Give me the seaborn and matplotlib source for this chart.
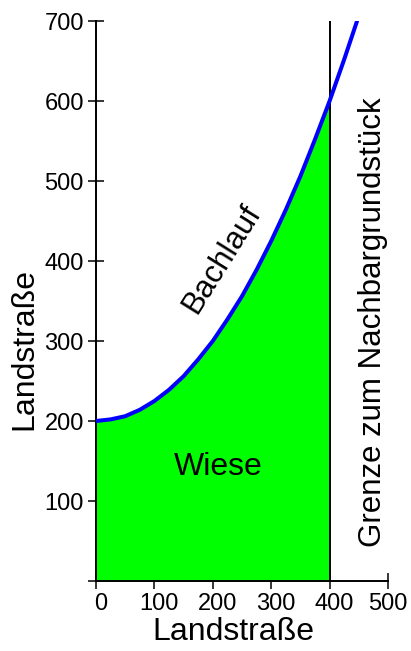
import matplotlib
matplotlib.use("Agg")
import matplotlib.pyplot as plt
import matplotlib.transforms as mtransforms
import numpy as np
import pandas as pd
import seaborn as sns

sns.set_style("ticks")
plt.rcParams['font.family'] = ['Liberation Sans', 'DejaVu Sans']
plt.rcParams['text.color'] = 'black'
plt.rcParams['axes.labelcolor'] = 'black'
plt.rcParams['xtick.color'] = 'black'
plt.rcParams['ytick.color'] = 'black'
plt.rcParams['axes.edgecolor'] = 'black'

# course of the brook
bach_x = [0, 25, 50, 75, 100, 125, 150, 175, 200, 225, 250, 275, 300, 325, 350, 375, 400, 425, 447]
bach_y = [200, 202, 206, 214, 225, 239, 256, 277, 300, 327, 356, 389, 425, 464, 506, 552, 600, 652, 700]
grenze_x = 400
x_ticks = [0, 100, 200, 300, 400, 500]
y_ticks = [0, 100, 200, 300, 400, 500, 600, 700]
y_ticklabels = ['', '100', '200', '300', '400', '500', '600', '700']

df = pd.DataFrame({'x': bach_x, 'y': bach_y})
wiese = df[df['x'] <= grenze_x]

fig = plt.figure(figsize=(4.11, 6.51), dpi=100)
ax = fig.add_axes([96/411, 70/651, 292/411, 560/651])

ax.fill_between(wiese['x'], 0, wiese['y'], color='#00ff00', lw=0, zorder=1)
sns.lineplot(data=df, x='x', y='y', color='#0000ff', lw=2.9, ax=ax, zorder=3)
ax.plot([grenze_x, grenze_x], [0, 700], color='black', lw=1.4, zorder=2)

ax.set_xlim(0, 500)
ax.set_ylim(0, 700)
ax.set_xticks(x_ticks)
ax.set_yticks(y_ticks)
ax.set_yticklabels(y_ticklabels)
ax.tick_params(direction='inout', length=11.5, width=1.1, labelsize=17, pad=3)
# labels sit a little right of their ticks (the last one stays put so it fits)
shift = mtransforms.ScaledTranslation(5/100, 0, fig.dpi_scale_trans)
for lab in ax.get_xticklabels()[:-1]:
    lab.set_transform(lab.get_transform() + shift)
for s in ['top', 'right']:
    ax.spines[s].set_visible(False)
for s in ['left', 'bottom']:
    ax.spines[s].set_linewidth(1.4)

ax.set_xlabel('Landstraße', fontsize=23)
ax.set_ylabel('Landstraße', fontsize=23)
ax.xaxis.set_label_coords(0.469, -0.065)
ax.yaxis.set_label_coords(-0.195, 0.414)

ax.text(209, 142, 'Wiese', fontsize=23, ha='center', va='center')
ax.text(215, 402, 'Bachlauf', fontsize=22.5, ha='center', va='center', rotation=58)
ax.text(474, 323, 'Grenze zum Nachbargrundstück', fontsize=22.5, ha='center', va='center',
        rotation=90, clip_on=False)

fig.savefig('out.png', dpi=100)
